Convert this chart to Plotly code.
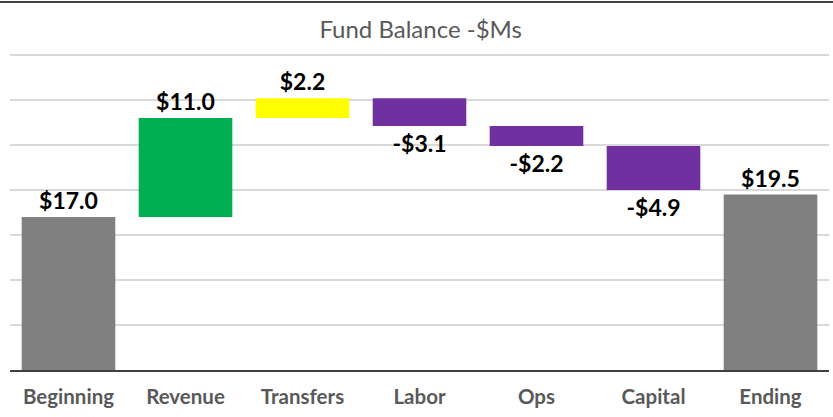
import plotly.graph_objects as go

# Fund balance bridge, in $ millions
categories = ["Beginning", "Revenue", "Transfers", "Labor", "Ops", "Capital", "Ending"]
values = [17.0, 11.0, 2.2, -3.1, -2.2, -4.9, 19.5]
is_total = [True, False, False, False, False, False, True]
bar_colors = ["#808080", "#00B050", "#FFFF00", "#7030A0", "#7030A0", "#7030A0", "#808080"]

# Floating bars: deltas start at the running balance, totals start at zero
bases = []
running = 0.0
for v, tot in zip(values, is_total):
    if tot:
        bases.append(0.0)
        running = v
    else:
        bases.append(running)
        running += v

labels = [("-$" if v < 0 else "$") + f"{abs(v):.1f}" for v in values]

FONT = "Lato, Calibri, 'Open Sans', sans-serif"

fig = go.Figure(
    go.Bar(
        x=categories,
        y=values,
        base=bases,
        marker=dict(color=bar_colors, line=dict(width=0)),
        text=labels,
        textposition="outside",
        textfont=dict(family=FONT, size=23, color="#000000", weight="bold"),
        constraintext="none",
        cliponaxis=False,
        hoverinfo="skip",
    )
)

fig.update_layout(
    width=833,
    height=417,
    margin=dict(l=10, r=4, t=46, b=47),
    paper_bgcolor="#FFFFFF",
    plot_bgcolor="#FFFFFF",
    bargap=0.2,
    showlegend=False,
    title=dict(
        text="Fund Balance -$Ms",
        x=0.505,
        xanchor="center",
        y=0.929,
        yanchor="middle",
        font=dict(family=FONT, size=24, color="#595959"),
    ),
    xaxis=dict(
        showgrid=False,
        showline=True,
        linecolor="#404040",
        linewidth=2,
        ticks="",
        tickfont=dict(family=FONT, size=20.5, color="#595959", weight="bold"),
        ticklabelstandoff=7,
    ),
    yaxis=dict(
        range=[0, 36],
        dtick=5,
        showticklabels=False,
        showgrid=True,
        gridcolor="#D9D9D9",
        gridwidth=1.5,
        zeroline=False,
        ticks="",
    ),
    shapes=[
        dict(
            type="line",
            xref="paper",
            yref="paper",
            x0=-0.02,
            x1=1.01,
            y0=1.136,
            y1=1.136,
            line=dict(color="#404040", width=2),
        )
    ],
)

fig.write_html("out.html")
